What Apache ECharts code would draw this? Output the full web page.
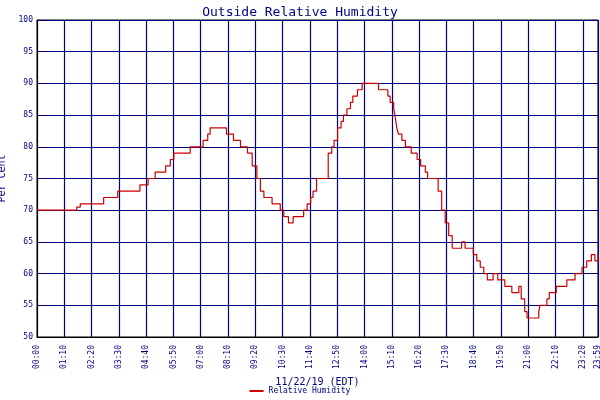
<!DOCTYPE html>
<html><head><meta charset="utf-8">
<script src="https://cdn.jsdelivr.net/npm/echarts@6/dist/echarts.min.js"></script>
<style>html,body{margin:0;padding:0;background:#fff}#c{width:600px;height:400px}</style>
</head><body><div id="c"></div>
<script>
const hours = [0,1.7,1.85,2.85,3.45,4.4,4.75,5.05,5.5,5.7,5.85,6.55,7.1,7.3,7.4,8.1,8.4,8.7,9.0,9.2,9.4,9.55,9.7,10.05,10.4,10.55,10.75,10.95,11.4,11.55,11.7,11.8,11.95,12.45,12.6,12.7,12.85,13.0,13.1,13.25,13.4,13.5,13.7,13.9,14.6,15.0,15.1,15.25,15.3,15.38,15.45,15.6,15.75,16.0,16.25,16.4,16.6,16.7,17.15,17.3,17.45,17.6,17.75,18.15,18.3,18.65,18.8,18.95,19.1,19.25,19.5,19.7,20.0,20.3,20.6,20.7,20.85,20.95,21.45,21.5,21.8,21.9,22.2,22.65,23.0,23.3,23.5,23.7,23.85,23.98];
const values = [70,70.5,71,72,73,74,75,76,77,78,79,80,81,82,83,82,81,80,79,77,75,73,72,71,70,69,68,69,70,71,72,73,75,79,80,81,83,84,85,86,87,88,89,90,89,88,87,86,85,83,82,81,80,79,78,77,76,75,73,70,68,66,64,65,64,63,62,61,60,59,60,59,58,57,58,56,54,53,54,55,56,57,58,59,60,61,62,63,62,63];
const yTicks = [50,55,60,65,70,75,80,85,90,95,100];
const seriesName = 'Relative Humidity';
const titleText = 'Outside Relative Humidity';
const xName = '11/22/19 (EDT)';
const yName = 'Per Cent';

const data = hours.map((h,i)=>[Math.round(h*60), values[i]]);
const pad = n => String(n).padStart(2,'0');
const fmt = m => pad(Math.floor(m/60)) + ':' + pad(m%60);
const blue = '#000080';
const chart = echarts.init(document.getElementById('c'));
chart.setOption({
  backgroundColor:'#fff',
  animation:false,
  title:{text:titleText,left:'center',top:1,textStyle:{color:blue,fontFamily:'DejaVu Sans Mono',fontSize:13,fontWeight:'normal'}},
  grid:{left:37,right:2,top:20,bottom:63,containLabel:false,outerBoundsMode:'none',show:true,borderColor:'#000',borderWidth:1},
  legend:{bottom:0,left:'center',itemWidth:14,itemHeight:2,icon:'rect',textStyle:{color:blue,fontFamily:'DejaVu Sans Mono',fontSize:8},data:[seriesName]},
  xAxis:{type:'value',min:0,max:1439,interval:70,
    name:xName,nameLocation:'middle',nameGap:40,nameTextStyle:{color:blue,fontFamily:'DejaVu Sans Mono',fontSize:10},
    axisLine:{lineStyle:{color:'#000'}},axisTick:{show:false},
    axisLabel:{rotate:90,color:blue,fontFamily:'DejaVu Sans Mono',fontSize:8,formatter:v=>fmt(v),showMaxLabel:true,hideOverlap:false},
    splitLine:{show:true,lineStyle:{color:blue,width:1.2}}},
  yAxis:{type:'value',min:yTicks[0],max:yTicks[yTicks.length-1],interval:5,
    name:yName,nameLocation:'middle',nameGap:24,nameTextStyle:{color:blue,fontFamily:'DejaVu Sans Mono',fontSize:10},
    axisLine:{show:true,lineStyle:{color:'#000'}},axisTick:{show:false},
    axisLabel:{color:blue,fontFamily:'DejaVu Sans Mono',fontSize:8,margin:4},
    splitLine:{show:true,lineStyle:{color:blue,width:1.2}}},
  series:[{name:seriesName,type:'line',step:'end',data:data,showSymbol:false,color:'#cc0000',lineStyle:{color:'#cc0000',width:1.2}}]
});
</script></body></html>
